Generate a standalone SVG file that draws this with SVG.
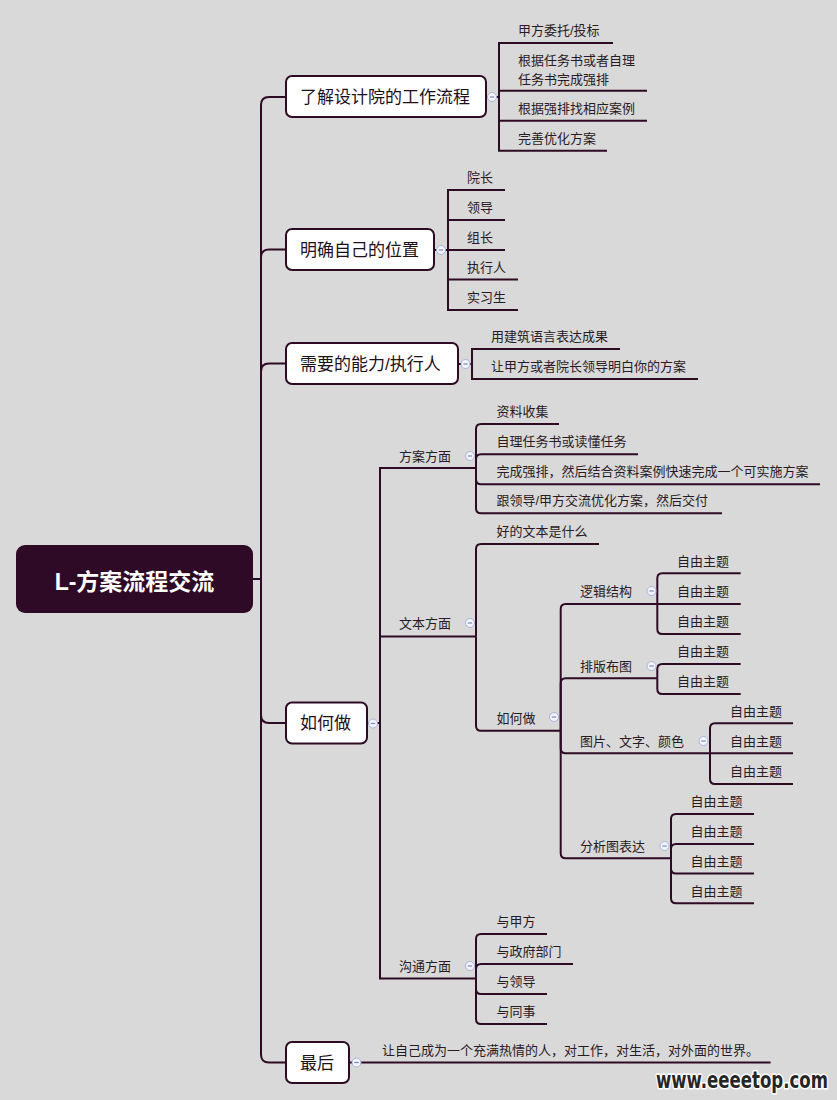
<svg xmlns="http://www.w3.org/2000/svg" width="837" height="1100" viewBox="0 0 837 1100">
<defs>
<style>
.c{fill:none;stroke:#2e0b25;stroke-width:2}
.n{fill:#fff;stroke:#2e0b25;stroke-width:2}
.t1{font-family:"Liberation Sans","Noto Sans CJK SC",sans-serif;font-size:17px;fill:#1e1018}
.t{font-family:"Liberation Sans","Noto Sans CJK SC",sans-serif;font-size:13px;fill:#2a1a24}
.root{font-family:"Liberation Sans","Noto Sans CJK SC",sans-serif;font-size:23px;font-weight:bold;fill:#fff}
.wm{font-family:"Liberation Sans Narrow","DejaVu Sans Condensed","Liberation Sans",sans-serif;font-size:23px;font-weight:bold;fill:#262626;stroke:#fff;stroke-width:3;paint-order:stroke;stroke-linejoin:round}
</style>
<g id="tog">
<circle r="4.5" fill="#f3f4fb" stroke="#a7b3dc" stroke-width="1"/>
<line x1="-2.2" y1="0" x2="2.2" y2="0" stroke="#7d89b5" stroke-width="1.2"/>
</g>
</defs>
<rect width="837" height="1100" fill="#d9d9d9"/>

<g id="connectors">
<path class="c" d="M253,579 H261"/>
<path class="c" d="M261,579 V105 Q261,97 269,97 H286"/>
<path class="c" d="M261,579 V257.5 Q261,249.5 269,249.5 H286"/>
<path class="c" d="M261,579 V371.5 Q261,363.5 269,363.5 H286"/>
<path class="c" d="M261,579 V715 Q261,723 269,723 H286"/>
<path class="c" d="M261,579 V1054.5 Q261,1062.5 269,1062.5 H286"/>
<path class="c" d="M486,97 H499"/>
<path class="c" d="M499,97 V43 H613"/>
<path class="c" d="M499,97 V90.7 H647"/>
<path class="c" d="M499,97 V120.7 H647"/>
<path class="c" d="M499,97 V150.7 H607"/>
<path class="c" d="M434,250 H448"/>
<path class="c" d="M448,250 V190 H505"/>
<path class="c" d="M448,250 V220 H505"/>
<path class="c" d="M448,250 H505"/>
<path class="c" d="M448,250 V279.5 H518"/>
<path class="c" d="M448,250 V310 H518"/>
<path class="c" d="M458,364 H472"/>
<path class="c" d="M472,364 V349 H620"/>
<path class="c" d="M472,364 V379 H698"/>
<path class="c" d="M367,723 H380"/>
<path class="c" d="M380,723 V468 H476"/>
<path class="c" d="M380,723 V636.5 H476"/>
<path class="c" d="M380,723 V978.5 H476"/>
<path class="c" d="M476,468 V429 Q476,424 481,424 H559"/>
<path class="c" d="M476,468 V459.3 Q476,454.3 481,454.3 H638"/>
<path class="c" d="M476,468 V479.3 Q476,484.3 481,484.3 H820"/>
<path class="c" d="M476,468 V508.3 Q476,513.3 481,513.3 H722"/>
<path class="c" d="M476,636.5 V549 Q476,544 481,544 H599"/>
<path class="c" d="M476,636.5 V725.7 Q476,730.7 481,730.7 H560.7"/>
<path class="c" d="M560.7,730.7 V609 Q560.7,604 565.7,604 H657.3"/>
<path class="c" d="M560.7,730.7 V683.3 Q560.7,678.3 565.7,678.3 H657.3"/>
<path class="c" d="M560.7,730.7 V748.3 Q560.7,753.3 565.7,753.3 H710"/>
<path class="c" d="M560.7,730.7 V853.3 Q560.7,858.3 565.7,858.3 H671"/>
<path class="c" d="M657.3,604 V578.3 Q657.3,573.3 662.3,573.3 H740.7"/>
<path class="c" d="M657.3,604 H740.7"/>
<path class="c" d="M657.3,604 V629 Q657.3,634 662.3,634 H740.7"/>
<path class="c" d="M657.3,678.3 V669 Q657.3,664 662.3,664 H740.7"/>
<path class="c" d="M657.3,678.3 V689 Q657.3,694 662.3,694 H740.7"/>
<path class="c" d="M710,753.3 V728.3 Q710,723.3 715,723.3 H793"/>
<path class="c" d="M710,753.3 H793"/>
<path class="c" d="M710,753.3 V779 Q710,784 715,784 H793"/>
<path class="c" d="M671,858.3 V819 Q671,814 676,814 H754"/>
<path class="c" d="M671,858.3 V849 Q671,844 676,844 H754"/>
<path class="c" d="M671,858.3 V868.5 Q671,873.5 676,873.5 H754"/>
<path class="c" d="M671,858.3 V898.3 Q671,903.3 676,903.3 H754"/>
<path class="c" d="M476,978.5 V939 Q476,934 481,934 H547"/>
<path class="c" d="M476,978.5 V969 Q476,964 481,964 H573"/>
<path class="c" d="M476,978.5 V989 Q476,994 481,994 H547"/>
<path class="c" d="M476,978.5 V1019 Q476,1024 481,1024 H547"/>
<path class="c" d="M349,1062.5 H770.6"/>
</g>

<g id="root">
<rect x="16" y="545" width="237" height="68" rx="9" fill="#2e0a26"/>
<text class="root" x="134.5" y="590" text-anchor="middle">L-方案流程交流</text>
</g>

<g id="n1">
<rect class="n" x="286" y="76" width="200" height="41" rx="6"/>
<text class="t1" x="300" y="103">了解设计院的工作流程</text>
<use href="#tog" x="492" y="97"/>
</g>
<g id="n1a"><text class="t" x="518" y="35">甲方委托/投标</text></g>
<g id="n1b"><text class="t" x="518" y="64.5">根据任务书或者自理</text><text class="t" x="518" y="83.5">任务书完成强排</text></g>
<g id="n1c"><text class="t" x="518" y="113">根据强排找相应案例</text></g>
<g id="n1d"><text class="t" x="518" y="143">完善优化方案</text></g>

<g id="n2">
<rect class="n" x="286" y="229" width="148" height="41" rx="6"/>
<text class="t1" x="300" y="256">明确自己的位置</text>
<use href="#tog" x="441" y="250"/>
</g>
<g id="n2a"><text class="t" x="467" y="182">院长</text></g>
<g id="n2b"><text class="t" x="467" y="212">领导</text></g>
<g id="n2c"><text class="t" x="467" y="242">组长</text></g>
<g id="n2d"><text class="t" x="467" y="271.5">执行人</text></g>
<g id="n2e"><text class="t" x="467" y="302">实习生</text></g>

<g id="n3">
<rect class="n" x="286" y="343" width="172" height="41" rx="6"/>
<text class="t1" x="300" y="370">需要的能力/执行人</text>
<use href="#tog" x="465.5" y="364"/>
</g>
<g id="n3a"><text class="t" x="491" y="341">用建筑语言表达成果</text></g>
<g id="n3b"><text class="t" x="491" y="371">让甲方或者院长领导明白你的方案</text></g>

<g id="n4">
<rect class="n" x="286" y="702.5" width="81" height="41" rx="6"/>
<text class="t1" x="300" y="729">如何做</text>
<use href="#tog" x="373" y="723.5"/>
</g>

<g id="n4a">
<text class="t" x="399" y="461">方案方面</text>
<use href="#tog" x="470" y="456"/>
</g>
<g id="n4a1"><text class="t" x="496.5" y="416">资料收集</text></g>
<g id="n4a2"><text class="t" x="496.5" y="446">自理任务书或读懂任务</text></g>
<g id="n4a3"><text class="t" x="496.5" y="476">完成强排，然后结合资料案例快速完成一个可实施方案</text></g>
<g id="n4a4"><text class="t" x="496.5" y="505">跟领导/甲方交流优化方案，然后交付</text></g>

<g id="n4b">
<text class="t" x="399" y="628">文本方面</text>
<use href="#tog" x="470" y="623"/>
</g>
<g id="n4b1"><text class="t" x="496.5" y="536">好的文本是什么</text></g>
<g id="n4b2">
<text class="t" x="496.5" y="722.5">如何做</text>
<use href="#tog" x="554" y="717"/>
</g>

<g id="n4b2a">
<text class="t" x="580" y="596">逻辑结构</text>
<use href="#tog" x="651.5" y="591"/>
</g>
<g id="n4b2a1"><text class="t" x="677" y="565.5">自由主题</text></g>
<g id="n4b2a2"><text class="t" x="677" y="595.5">自由主题</text></g>
<g id="n4b2a3"><text class="t" x="677" y="626">自由主题</text></g>

<g id="n4b2b">
<text class="t" x="580" y="671">排版布图</text>
<use href="#tog" x="651.5" y="666"/>
</g>
<g id="n4b2b1"><text class="t" x="677" y="656">自由主题</text></g>
<g id="n4b2b2"><text class="t" x="677" y="686">自由主题</text></g>

<g id="n4b2c">
<text class="t" x="580" y="746">图片、文字、颜色</text>
<use href="#tog" x="703.5" y="741"/>
</g>
<g id="n4b2c1"><text class="t" x="730" y="715.5">自由主题</text></g>
<g id="n4b2c2"><text class="t" x="730" y="745.5">自由主题</text></g>
<g id="n4b2c3"><text class="t" x="730" y="776">自由主题</text></g>

<g id="n4b2d">
<text class="t" x="580" y="850.5">分析图表达</text>
<use href="#tog" x="664.5" y="846"/>
</g>
<g id="n4b2d1"><text class="t" x="690.5" y="806">自由主题</text></g>
<g id="n4b2d2"><text class="t" x="690.5" y="836">自由主题</text></g>
<g id="n4b2d3"><text class="t" x="690.5" y="865.5">自由主题</text></g>
<g id="n4b2d4"><text class="t" x="690.5" y="895.5">自由主题</text></g>

<g id="n4c">
<text class="t" x="399" y="971">沟通方面</text>
<use href="#tog" x="470" y="966"/>
</g>
<g id="n4c1"><text class="t" x="496.5" y="926">与甲方</text></g>
<g id="n4c2"><text class="t" x="496.5" y="956">与政府部门</text></g>
<g id="n4c3"><text class="t" x="496.5" y="986">与领导</text></g>
<g id="n4c4"><text class="t" x="496.5" y="1016">与同事</text></g>

<g id="n5">
<rect class="n" x="286" y="1042" width="63" height="41" rx="6"/>
<text class="t1" x="300" y="1069">最后</text>
<use href="#tog" x="356.5" y="1062.5"/>
</g>
<g id="n5a"><text class="t" x="382" y="1055">让自己成为一个充满热情的人，对工作，对生活，对外面的世界。</text></g>

<text class="wm" x="656" y="1088" textLength="172" lengthAdjust="spacingAndGlyphs">www.eeeetop.com</text>
</svg>
